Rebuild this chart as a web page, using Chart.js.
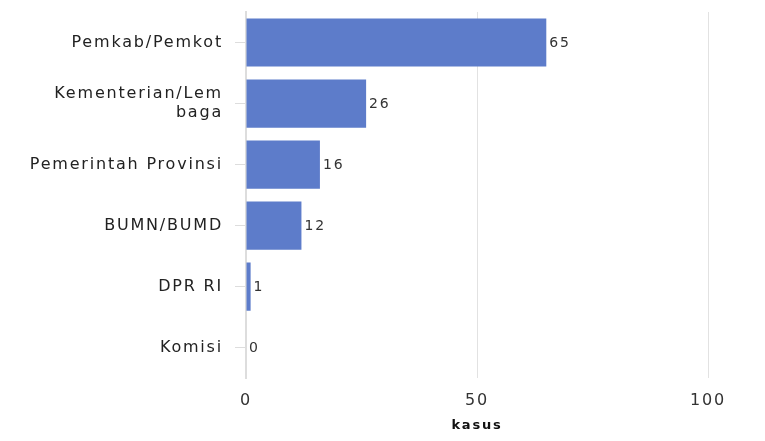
<!DOCTYPE html>
<html>
<head>
<meta charset="utf-8">
<script src="https://cdn.jsdelivr.net/npm/chart.js@4/dist/chart.umd.min.js"></script>
<style>
    html, body { margin: 0; padding: 0; background: #ffffff; }
    #wrap { width: 765px; height: 441px; position: relative; }
</style>
</head>
<body>
<div id="wrap"><canvas id="chart"></canvas></div>
<script>
// Kasus per instansi
const categories = [
    'Pemkab/Pemkot',
    ['Kementerian/Lem', 'baga'],
    'Pemerintah Provinsi',
    'BUMN/BUMD',
    'DPR RI',
    'Komisi'
];
const kasus = [65, 26, 16, 12, 1, 0];
const xTicks = [0, 50, 100];

const barColor = '#5d7cca';
const textFont = "'DejaVu Sans', sans-serif";
const spacing = '1.8px';

// the reference text is drawn quite wide, so widen every glyph run a bit
const wideText = {
    id: 'wideText',
    beforeUpdate(chart) { chart.ctx.letterSpacing = spacing; },
    beforeLayout(chart) { chart.ctx.letterSpacing = spacing; },
    beforeDraw(chart) { chart.ctx.letterSpacing = spacing; }
};

// Draw the value next to each bar end
const valueLabels = {
    id: 'valueLabels',
    afterDatasetsDraw(chart) {
        const ctx = chart.ctx;
        const meta = chart.getDatasetMeta(0);
        ctx.save();
        ctx.font = '14px ' + textFont;
        ctx.fillStyle = '#333333';
        ctx.textAlign = 'left';
        ctx.textBaseline = 'middle';
        meta.data.forEach((bar, i) => {
            ctx.fillText(String(kasus[i]), bar.x + 3, bar.y + 1);
        });
        ctx.restore();
    }
};

const ctx = document.getElementById('chart');
new Chart(ctx, {
    type: 'bar',
    data: {
        labels: categories,
        datasets: [{
            label: 'kasus',
            data: kasus,
            backgroundColor: barColor,
            borderWidth: 0,
            categoryPercentage: 1,
            barPercentage: 0.79
        }]
    },
    options: {
        indexAxis: 'y',
        responsive: true,
        maintainAspectRatio: false,
        animation: false,
        layout: {
            padding: { top: 12, right: 57, bottom: 8, left: 0 }
        },
        plugins: {
            legend: { display: false },
            tooltip: { enabled: false }
        },
        scales: {
            x: {
                min: 0,
                max: 100,
                afterBuildTicks(scale) {
                    scale.ticks = xTicks.map(v => ({ value: v }));
                },
                grid: {
                    color: '#e2e2e2',
                    drawTicks: false
                },
                border: { display: false },
                ticks: {
                    color: '#333333',
                    padding: 13,
                    font: { family: textFont, size: 16 }
                },
                title: {
                    display: true,
                    text: 'kasus',
                    color: '#111111',
                    font: { family: textFont, size: 13, weight: 'bold' },
                    padding: { top: -6, bottom: 0 }
                }
            },
            y: {
                afterFit(scale) {
                    scale.width = 246;
                    scale.paddingTop = 0;
                    scale.paddingBottom = 0;
                },
                grid: {
                    offset: false,
                    drawOnChartArea: false,
                    drawTicks: true,
                    tickLength: 11,
                    color: '#dddddd'
                },
                border: { display: true, color: '#dddddd', width: 2 },
                ticks: {
                    color: '#222222',
                    padding: 12,
                    font: { family: textFont, size: 16, lineHeight: 1.2 }
                }
            }
        }
    },
    plugins: [wideText, valueLabels]
});
</script>
</body>
</html>
